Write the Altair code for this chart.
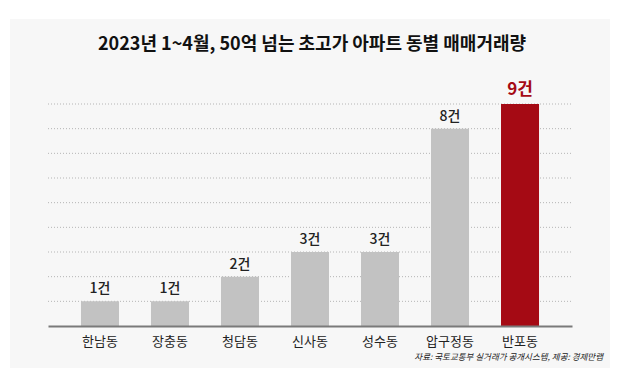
import altair as alt
import pandas as pd

districts = ["한남동", "장충동", "청담동", "신사동", "성수동", "압구정동", "반포동"]
counts = [1, 1, 2, 3, 3, 8, 9]
grid_values = [1, 2, 3, 4, 5, 6, 7, 8, 9]
highlight = "반포동"
title_text = "2023년 1~4월, 50억 넘는 초고가 아파트 동별 매매거래량"
source_text = "자료: 국토교통부 실거래가 공개시스템, 제공: 경제만랩"

df = pd.DataFrame({"dong": districts, "count": counts})
df["label"] = [f"{c}건" for c in counts]
grid_df = pd.DataFrame({"g": grid_values})

FONT = "Noto Sans CJK KR"
W, H = 524, 222

base = alt.Chart(df)

panel = alt.Chart(pd.DataFrame({"a": [0]})).mark_rect(color="#f7f7f7").encode(
    x=alt.value(-38), x2=alt.value(562), y=alt.value(-85), y2=alt.value(264)
)

yscale = alt.Scale(domain=[0, 9], nice=False)

grid = alt.Chart(grid_df).mark_rule(color="#b5b5b5", strokeDash=[1, 2], strokeWidth=1).encode(
    y=alt.Y("g:Q", scale=yscale, axis=None),
    x=alt.value(0), x2=alt.value(W),
)

xenc = alt.X(
    "dong:N",
    sort=districts,
    scale=alt.Scale(paddingInner=0.457, paddingOuter=0.471),
    axis=alt.Axis(
        title=None, labelAngle=0, ticks=False, domainColor="#7a7a7a", domainWidth=2,
        labelFont=FONT, labelFontSize=13, labelColor="#222", labelPadding=9, zindex=1,
    ),
)
yenc = alt.Y("count:Q", scale=yscale, axis=None)

bars = base.mark_bar().encode(
    x=xenc,
    y=yenc,
    color=alt.condition(alt.datum.dong == highlight, alt.value("#a50a14"), alt.value("#c2c2c2")),
)

labels = base.transform_filter(alt.datum.dong != highlight).mark_text(
    dy=-12, font=FONT, fontSize=14, color="#222", fontWeight=500
).encode(x=alt.X("dong:N", sort=districts), y="count:Q", text="label:N")

hl_label = base.transform_filter(alt.datum.dong == highlight).mark_text(
    dy=-14, font=FONT, fontSize=17, color="#a50a14", fontWeight="bold"
).encode(x=alt.X("dong:N", sort=districts), y="count:Q", text="label:N")

title = alt.Chart(pd.DataFrame({"t": [title_text]})).mark_text(
    font=FONT, fontSize=18, fontWeight="bold", color="#111", align="center", baseline="middle"
).encode(x=alt.value(264), y=alt.value(-59), text="t:N")

source = alt.Chart(pd.DataFrame({"t": [source_text]})).mark_text(
    font=FONT, fontSize=8.5, fontStyle="italic", color="#222", align="right", baseline="middle"
).encode(x=alt.value(555), y=alt.value(253), text="t:N")

chart = alt.layer(panel, grid, bars, labels, hl_label, title, source).properties(
    width=W, height=H,
    autosize=alt.AutoSizeParams(type="none"),
    padding={"left": 48, "top": 104, "right": 53, "bottom": 50},
    background="white",
).configure_view(stroke=None)

chart.save("out.html", embed_options={"renderer": "svg", "actions": False})
